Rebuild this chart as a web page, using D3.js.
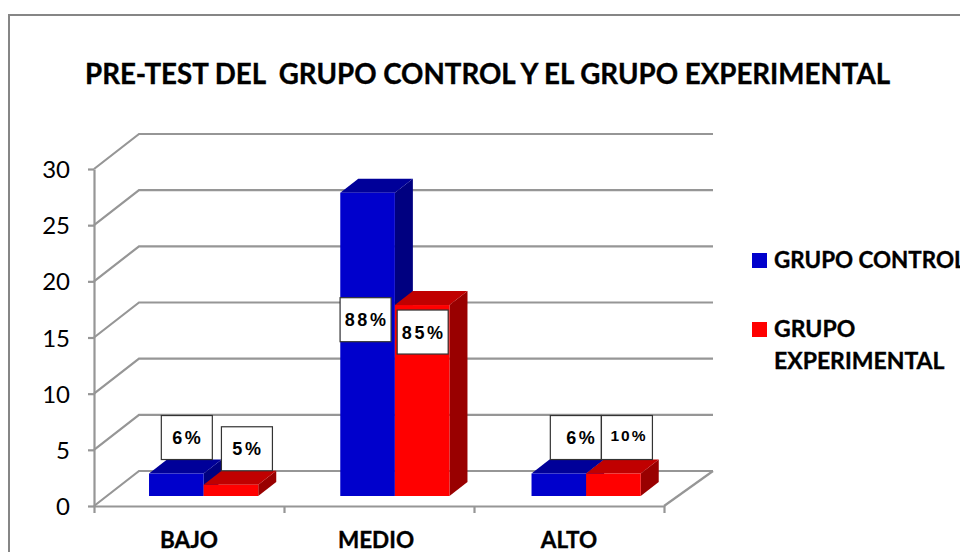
<!DOCTYPE html>
<html lang="es">
<head>
<meta charset="utf-8">
<title>Pre-test del grupo control y el grupo experimental</title>
<script src="https://cdn.jsdelivr.net/npm/d3@7"></script>
<style>
  html, body { margin: 0; padding: 0; background: #fff; overflow: hidden; }
  svg { display: block; }
  text { font-family: Lato, "Noto Sans", sans-serif; fill: #000; }
  .title, .legend-label, .cat-axis text { font-weight: 700; stroke: #000; stroke-width: 0.35px; }
  .val-axis text { font-size: 24px; }
  .cat-axis text { font-size: 22.5px; }
  .axis .domain, .axis .tick line { stroke: #969696; stroke-width: 2.2px; }
  .grid { fill: none; stroke: #969696; stroke-width: 2.2px; }
  .value-box { fill: #fff; stroke: #333; stroke-width: 1.2px; }
  .value-label { font-family: "Liberation Sans", Arial, sans-serif; font-weight: 700; text-anchor: middle; }
</style>
</head>
<body>
<div id="chart"></div>
<script>
/* ── DATA ─────────────────────────────────────────────────── */
const categories = ["BAJO", "MEDIO", "ALTO"];
const seriesNames = ["GRUPO CONTROL", "GRUPO EXPERIMENTAL"];
const controlValues = [2, 27, 2];
const experimentalValues = [1, 17, 2];
const controlLabels = ["6%", "88%", "6%"];
const experimentalLabels = ["5%", "85%", "10%"];
const yTicks = [0, 5, 10, 15, 20, 25, 30];

/* ── LAYOUT ───────────────────────────────────────────────── */
const W = 960, H = 552;
const wall = { dx: 45, dy: -35 };     // floor depth, front edge to back wall
const barDepth = { dx: 18, dy: -14 };
const barLift = 10;                   // bars stand this far up the floor
const barW = 54.6;
const colors = [
  { front: "#0000cc", top: "#000099", side: "#000080" },
  { front: "#ff0000", top: "#c00000", side: "#990000" }
];
// the value boxes were dragged by hand in the original
const boxW = 51, boxH = 44;
const labelNudge = [
  [{ dx: 10.5, dy: 0 }, { dx: 16, dy: 0 }],
  [{ dx: -2, dy: 163 }, { dx: 0.5, dy: 63 }],
  [{ dx: 17, dy: 0 }, { dx: 13.5, dy: 0 }]
];

const svg = d3.select("#chart").append("svg")
  .attr("width", W).attr("height", H)
  .attr("viewBox", `0 0 ${W} ${H}`);

/* ── OUTER FRAME ──────────────────────────────────────────── */
svg.append("path")
  .attr("d", "M9,552V15H960")
  .attr("fill", "none")
  .attr("stroke", "#868686")
  .attr("stroke-width", 2);

/* ── TITLE ────────────────────────────────────────────────── */
svg.append("text")
  .attr("class", "title")
  .attr("x", 85).attr("y", 84)
  .attr("font-size", 27.7)
  .style("white-space", "pre")
  .text("PRE-TEST DEL  GRUPO CONTROL Y EL GRUPO EXPERIMENTAL");

/* ── SCALES ───────────────────────────────────────────────── */
const y = d3.scaleLinear().domain([0, 30]).range([506, 169]);
const xAxisBand = d3.scaleBand().domain(categories).range([94, 664]);
const xEdges = d3.scaleLinear().domain([0, categories.length]).range([94, 664]);
const xBars = d3.scaleBand().domain(categories).range([108, 681.75]);

/* ── WALLS AND GRIDLINES ──────────────────────────────────── */
svg.append("g").selectAll("path")
  .data(yTicks)
  .join("path")
    .attr("class", "grid")
    .attr("d", d => `M94,${y(d)}L${94 + wall.dx},${y(d) + wall.dy}L713,${y(d) + wall.dy}`);

// right side of the floor
svg.append("line")
  .attr("class", "grid")
  .attr("x1", 713).attr("y1", y(0) + wall.dy)
  .attr("x2", 664).attr("y2", y(0));

/* ── AXES ─────────────────────────────────────────────────── */
svg.append("g")
  .attr("class", "axis val-axis")
  .attr("transform", "translate(94,0)")
  .call(d3.axisLeft(y).tickValues(yTicks).tickSize(6).tickSizeOuter(0).tickPadding(18))
  .call(g => g.selectAll("text").attr("dy", "0.36em"));

svg.append("g")
  .attr("class", "axis")
  .attr("transform", `translate(0,${y(0)})`)
  .call(d3.axisBottom(xEdges).tickValues(d3.range(categories.length + 1))
    .tickFormat("").tickSize(7).tickSizeOuter(0));

svg.append("g")
  .attr("class", "cat-axis")
  .attr("transform", "translate(0,548)")
  .call(d3.axisBottom(xAxisBand).tickSize(0).tickPadding(0))
  .call(g => g.select(".domain").remove())
  .call(g => g.selectAll("text").attr("y", 0).attr("dy", 0))
  .call(g => g.selectAll(".tick").filter(d => d === "MEDIO")
    .select("text").attr("x", -3));

/* ── BARS ─────────────────────────────────────────────────── */
const allValues = [controlValues, experimentalValues];
const allLabels = [controlLabels, experimentalLabels];
const baseY = y(0) - barLift;

const bars = categories.flatMap((c, i) => allValues.map((vals, s) => {
  const cx = xBars(c) + xBars.bandwidth() / 2;
  const x0 = cx + (s === 0 ? -barW : 0);
  const top = baseY - (y(0) - y(vals[i]));
  return { c, i, s, x0, x1: x0 + barW, top, cx: x0 + barW / 2 };
}));

const barG = svg.append("g").selectAll("g")
  .data(bars)
  .join("g");

barG.append("path")
  .attr("fill", d => colors[d.s].side)
  .attr("d", d => `M${d.x1},${d.top}L${d.x1 + barDepth.dx},${d.top + barDepth.dy}` +
    `L${d.x1 + barDepth.dx},${baseY + barDepth.dy}L${d.x1},${baseY}Z`);

barG.append("path")
  .attr("fill", d => colors[d.s].top)
  .attr("d", d => `M${d.x0},${d.top}L${d.x0 + barDepth.dx},${d.top + barDepth.dy}` +
    `L${d.x1 + barDepth.dx},${d.top + barDepth.dy}L${d.x1},${d.top}Z`);

barG.append("rect")
  .attr("fill", d => colors[d.s].front)
  .attr("x", d => d.x0)
  .attr("y", d => d.top)
  .attr("width", barW)
  .attr("height", d => baseY - d.top);

/* ── VALUE LABELS ─────────────────────────────────────────── */
const labelG = svg.append("g").selectAll("g")
  .data(bars)
  .join("g")
    .attr("transform", d => {
      const n = labelNudge[d.i][d.s];
      return `translate(${d.cx + n.dx},${d.top + barDepth.dy + n.dy - boxH / 2})`;
    });

labelG.append("rect")
  .attr("class", "value-box")
  .attr("x", -boxW / 2).attr("y", -boxH / 2)
  .attr("width", boxW).attr("height", boxH);

labelG.append("text")
  .attr("class", "value-label")
  .attr("x", d => (d.i === 2 && d.s === 0) ? 6 : (d.i === 2 ? 2 : 1))
  .attr("y", d => (d.i === 2 && d.s === 1) ? -2 : 0)
  .attr("dy", "0.36em")
  .attr("font-size", d => (d.i === 2 && d.s === 1) ? 15.5 : 18)
  .attr("letter-spacing", d => (d.i === 2 && d.s === 1) ? 2 : 2.6)
  .text(d => allLabels[d.s][d.i]);

/* ── LEGEND ───────────────────────────────────────────────── */
// the first entry runs off the right edge, the same as in the original
const legendRows = [
  { lines: ["GRUPO CONTROL"], swatchY: 253, baselines: [268], size: 22.4 },
  { lines: ["GRUPO", "EXPERIMENTAL"], swatchY: 322, baselines: [337, 369], size: 23 }
];
const legend = svg.append("g").selectAll("g")
  .data(legendRows)
  .join("g");

legend.append("rect")
  .attr("x", 752).attr("y", d => d.swatchY)
  .attr("width", 15).attr("height", 15)
  .attr("fill", (d, i) => colors[i].front);

legend.selectAll("text")
  .data(d => d.lines.map((t, j) => ({ t, by: d.baselines[j], size: d.size })))
  .join("text")
    .attr("class", "legend-label")
    .attr("x", 774)
    .attr("y", d => d.by)
    .attr("font-size", d => d.size)
    .text(d => d.t);
</script>
</body>
</html>
